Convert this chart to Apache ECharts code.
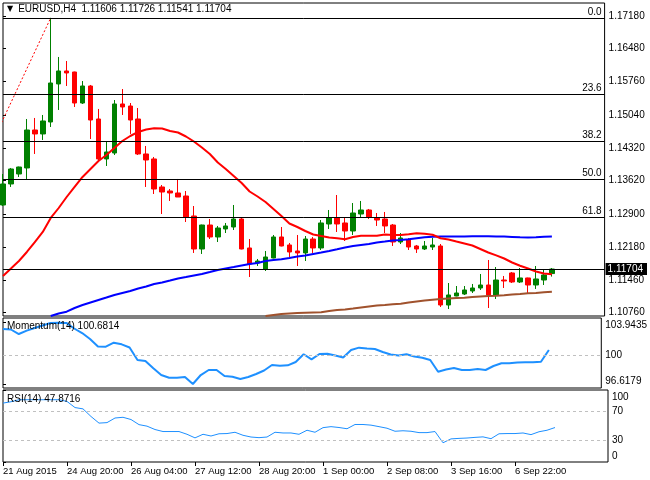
<!DOCTYPE html>
<html>
<head>
<meta charset="UTF-8">
<title>EURUSD H4</title>
<style>
  html, body { margin: 0; padding: 0; background: #fff; }
  #chart { width: 650px; height: 480px; }
</style>
</head>
<body>
<div id="chart"></div>
<script src="https://cdn.jsdelivr.net/npm/echarts@6/dist/echarts.min.js"></script>
<script>
// bars, bar 0 = 21 Aug 2015 12:00, one value per bar
var symbol = 'EURUSD,H4';

var opens = [
  1.13090, 1.13545, 1.13761, 1.13891, 1.14713, 1.14627, 1.14886, 1.15709, 1.15990, 1.15968,
  1.15297, 1.15665, 1.14951, 1.14086, 1.14215, 1.15276, 1.15232, 1.14951, 1.14194, 1.14086,
  1.13480, 1.13393, 1.13350, 1.13285, 1.12852, 1.12138, 1.12657, 1.12398, 1.12571, 1.12614,
  1.12787, 1.12160, 1.11835, 1.11705, 1.11943, 1.12398, 1.12225, 1.12095, 1.12052, 1.12354,
  1.12160, 1.12679, 1.12809, 1.12701, 1.12527, 1.12895, 1.12982, 1.12809, 1.12787, 1.12657,
  1.12289, 1.12333, 1.12203, 1.12138, 1.12181, 1.12203, 1.10926, 1.11121, 1.11164, 1.11229,
  1.11294, 1.11359, 1.11143, 1.11467, 1.11619, 1.11424, 1.11511, 1.11359, 1.11467, 1.11606
];
var highs = [
  1.13761, 1.13891, 1.13920, 1.14951, 1.14973, 1.15038, 1.17140, 1.16293, 1.16206, 1.15975,
  1.15773, 1.15687, 1.15168, 1.14453, 1.15362, 1.15600, 1.15297, 1.15189, 1.14367, 1.14129,
  1.13523, 1.13436, 1.13653, 1.13393, 1.13068, 1.12665, 1.12787, 1.12636, 1.12701, 1.13090,
  1.12809, 1.12354, 1.11922, 1.12095, 1.12441, 1.12614, 1.12268, 1.12441, 1.12419, 1.12398,
  1.12765, 1.12982, 1.13306, 1.12809, 1.13133, 1.13177, 1.13004, 1.12917, 1.12939, 1.12679,
  1.12484, 1.12376, 1.12225, 1.12311, 1.12376, 1.12246, 1.11402, 1.11337, 1.11337, 1.11381,
  1.11597, 1.11900, 1.11748, 1.11554, 1.11640, 1.11727, 1.11518, 1.11770, 1.11684, 1.11726
];
var lows = [
  1.13068, 1.13480, 1.13696, 1.13653, 1.14194, 1.14497, 1.14778, 1.15146, 1.15665, 1.15211,
  1.15276, 1.14518, 1.14021, 1.13934, 1.14172, 1.15038, 1.14627, 1.14172, 1.13480, 1.13328,
  1.12895, 1.13177, 1.13263, 1.12722, 1.12052, 1.12030, 1.12354, 1.12289, 1.12484, 1.12549,
  1.12130, 1.11532, 1.11770, 1.11662, 1.11935, 1.12195, 1.11965, 1.11770, 1.11878, 1.12052,
  1.12116, 1.12571, 1.12506, 1.12311, 1.12441, 1.12830, 1.12787, 1.12636, 1.12484, 1.12203,
  1.12246, 1.12116, 1.12052, 1.12116, 1.12116, 1.10883, 1.10839, 1.11115, 1.11143, 1.11186,
  1.11251, 1.10861, 1.11056, 1.11294, 1.11402, 1.11402, 1.11186, 1.11273, 1.11359, 1.11541
];
var closes = [
  1.13545, 1.13869, 1.13912, 1.14713, 1.14627, 1.14908, 1.15730, 1.15990, 1.15947, 1.15297,
  1.15665, 1.14929, 1.14086, 1.14237, 1.15276, 1.15211, 1.14929, 1.14194, 1.14064, 1.13436,
  1.13371, 1.13350, 1.13263, 1.12830, 1.12138, 1.12657, 1.12398, 1.12592, 1.12636, 1.12787,
  1.12138, 1.11813, 1.11878, 1.11965, 1.12398, 1.12203, 1.12073, 1.12052, 1.12354, 1.12160,
  1.12701, 1.12809, 1.12679, 1.12527, 1.12917, 1.12982, 1.12830, 1.12765, 1.12636, 1.12289,
  1.12376, 1.12181, 1.12138, 1.12203, 1.12225, 1.10926, 1.11143, 1.11186, 1.11251, 1.11294,
  1.11359, 1.11143, 1.11467, 1.11446, 1.11424, 1.11511, 1.11359, 1.11489, 1.11576, 1.11704
];

// moving averages (red = fast, blue = 100, brown = 200), null where off the pane
var maRed = [
  1.11554, 1.11716, 1.11878, 1.12073, 1.12289, 1.12506, 1.12809, 1.13025, 1.13263, 1.13480,
  1.13696, 1.13869, 1.14042, 1.14172, 1.14324, 1.14475, 1.14583, 1.14670, 1.14724, 1.14750,
  1.14746, 1.14691, 1.14659, 1.14572, 1.14464, 1.14334, 1.14194, 1.14010, 1.13869, 1.13718,
  1.13566, 1.13382, 1.13274, 1.13155, 1.13004, 1.12852, 1.12690, 1.12614, 1.12527, 1.12452,
  1.12419, 1.12387, 1.12370, 1.12349, 1.12398, 1.12426, 1.12426, 1.12426, 1.12452, 1.12441,
  1.12441, 1.12456, 1.12478, 1.12467, 1.12446, 1.12370, 1.12344, 1.12300, 1.12257, 1.12214,
  1.12138, 1.12062, 1.12001, 1.11932, 1.11846, 1.11776, 1.11716, 1.11651, 1.11608, 1.11591
];
var maBlue = [
  null, null, null, null, null, null, 1.10688, 1.10742, 1.10781, 1.10861,
  1.10926, 1.10980, 1.11034, 1.11088, 1.11143, 1.11186, 1.11229, 1.11283, 1.11327, 1.11381,
  1.11413, 1.11456, 1.11500, 1.11532, 1.11565, 1.11597, 1.11640, 1.11684, 1.11716, 1.11748,
  1.11781, 1.11813, 1.11835, 1.11878, 1.11900, 1.11915, 1.11943, 1.11976, 1.11998, 1.12030,
  1.12062, 1.12095, 1.12131, 1.12170, 1.12203, 1.12225, 1.12246, 1.12279, 1.12300, 1.12322,
  1.12333, 1.12348, 1.12370, 1.12392, 1.12404, 1.12406, 1.12408, 1.12410, 1.12410, 1.12412,
  1.12412, 1.12412, 1.12410, 1.12406, 1.12400, 1.12392, 1.12387, 1.12390, 1.12404, 1.12410
];
var maBrown = [
  null, null, null, null, null, null, null, null, null, null,
  null, null, null, null, null, null, null, null, null, null,
  null, null, null, null, null, null, null, null, null, null,
  null, null, null, 1.10688, 1.10710, 1.10731, 1.10742, 1.10753, 1.10760, 1.10764,
  1.10768, 1.10796, 1.10818, 1.10829, 1.10850, 1.10872, 1.10894, 1.10915, 1.10926, 1.10941,
  1.10954, 1.10980, 1.11002, 1.11023, 1.11041, 1.11056, 1.11067, 1.11077, 1.11084, 1.11099,
  1.11110, 1.11121, 1.11127, 1.11136, 1.11153, 1.11164, 1.11179, 1.11186, 1.11201, 1.11214
];

var momentum = [
  103.19, 103.13, 102.59, 102.99, 103.31, 103.61, 103.90, 103.9435, 103.92, 103.25,
  102.71, 102.00, 101.10, 101.08, 101.55, 101.36, 100.98, 99.49, 99.37, 98.49,
  97.69, 97.37, 97.37, 97.46, 96.6179, 97.69, 98.29, 98.29, 97.57, 97.49,
  97.22, 97.46, 97.81, 98.23, 98.89, 98.81, 98.85, 99.25, 100.17, 99.57,
  100.20, 100.24, 100.02, 99.78, 100.68, 100.96, 100.86, 100.80, 100.44, 100.14,
  100.02, 100.17, 99.90, 99.76, 99.49, 98.09, 98.35, 98.53, 98.29, 98.29,
  98.41, 98.29, 98.77, 99.09, 99.09, 99.19, 99.21, 99.21, 99.28, 100.6814
];
var rsi = [
  81.8, 83.7, 86.5, 86.5, 86.5, 86.5, 86.5, 86.5, 84.1, 75.6,
  73.8, 63.2, 54.0, 54.7, 61.1, 62.1, 59.0, 51.9, 49.8, 45.1,
  42.3, 42.3, 42.3, 38.5, 33.5, 38.5, 36.1, 39.2, 39.5, 41.3,
  37.1, 34.7, 33.8, 34.7, 41.3, 40.3, 40.3, 38.5, 44.1, 41.3,
  47.7, 49.1, 47.9, 46.2, 52.1, 52.1, 51.2, 49.1, 46.9, 42.7,
  43.4, 42.7, 40.8, 40.8, 42.3, 26.7, 32.1, 32.8, 33.3, 34.2,
  34.9, 32.4, 39.2, 39.5, 39.5, 40.3, 38.0, 42.0, 44.1, 47.8716
];

// fibonacci retracement drawn from the early-August low to the 24 Aug high
var fibHigh = 1.1714, fibHighBar = 6;
var fibLow = 1.1017, fibLowBar = -13;
var fibRatios = [0, 0.236, 0.382, 0.5, 0.618];

// axes
var timeTicks = [0, 8, 16, 24, 32, 40, 48, 56, 64];
var timeLabels = ['21 Aug 2015', '24 Aug 20:00', '26 Aug 04:00', '27 Aug 12:00', '28 Aug 20:00',
  '1 Sep 00:00', '2 Sep 08:00', '3 Sep 16:00', '6 Sep 22:00'];
var priceTicks = [1.10760, 1.11460, 1.12180, 1.12900, 1.13620, 1.14320, 1.15040, 1.15760, 1.16480, 1.17180];
var momTicks = ['96.6179', '100', '103.9435'];
var rsiTicks = [0, 30, 70, 100];
var rsiLevels = [30, 70];

var priceMin = 1.10688, priceMax = 1.17461;
var momMin = 96.141, momMax = 104.504;
var xSpan = 75.625;

var FONT = 'Liberation Sans';
var n = closes.length;
var last = n - 1;

function pairs(arr) {
  var out = [];
  arr.forEach(function (v, i) { if (v !== null) out.push([i, v]); });
  return out;
}

var candles = closes.map(function (c, i) {
  return [i, opens[i], c, lows[i], highs[i]];
});

var fibLines = fibRatios.map(function (r) {
  return {
    yAxis: fibHigh - r * (fibHigh - fibLow),
    label: { formatter: (r * 100).toFixed(1) }
  };
});
fibLines.push({ yAxis: closes[last], label: { show: false } });

var chart = echarts.init(document.getElementById('chart'));

function xAxisFor(grid, showLabels) {
  return {
    type: 'value', gridIndex: grid, min: 0, max: xSpan,
    show: showLabels,
    splitLine: { show: false },
    axisLine: { show: false },
    axisTick: { show: true, customValues: timeTicks, length: 4, lineStyle: { color: '#000' } },
    axisLabel: {
      customValues: timeTicks, showMinLabel: true, showMaxLabel: true,
      align: 'left', margin: 4, fontSize: 9.5, color: '#000', fontFamily: FONT,
      formatter: function (v) { return timeLabels[timeTicks.indexOf(v)] || ''; }
    }
  };
}

function yAxisBase(grid, min, max) {
  return {
    type: 'value', gridIndex: grid, position: 'right', min: min, max: max,
    splitLine: { show: false },
    axisLine: { show: false },
    axisTick: { show: true, length: 3, lineStyle: { color: '#000' } },
    axisLabel: { margin: 4, fontSize: 10, color: '#000', fontFamily: FONT }
  };
}

var yPrice = yAxisBase(0, priceMin, priceMax);
yPrice.axisTick.customValues = priceTicks;
yPrice.axisLabel.customValues = priceTicks;
yPrice.axisLabel.formatter = function (v) { return v.toFixed(5); };

var yTag = yAxisBase(0, priceMin, priceMax);
yTag.axisTick = { show: false };
yTag.axisLabel = {
  customValues: [closes[last]], margin: 1, fontSize: 10, fontFamily: FONT,
  color: '#fff', backgroundColor: '#000', padding: [1, 4, 1, 2],
  formatter: function (v) { return v.toFixed(5); }
};

var yMom = yAxisBase(1, momMin, momMax);
yMom.axisTick.customValues = momTicks.map(Number);
yMom.axisLabel.customValues = momTicks.map(Number);
yMom.axisLabel.formatter = function (v) {
  var s = momTicks[momTicks.map(Number).indexOf(v)];
  if (v === Number(momTicks[2])) return '{s6| }\n{t|' + s + '}';
  if (v === Number(momTicks[0])) return '{t|' + s + '}\n{s6| }';
  return '{t|' + s + '}';
};
yMom.axisLabel.rich = { t: { lineHeight: 12 }, s6: { lineHeight: 6 } };

var yRsi = yAxisBase(2, 0, 100);
yRsi.axisTick.customValues = rsiTicks;
yRsi.axisLabel.customValues = rsiTicks;
yRsi.axisLabel.formatter = function (v) {
  if (v === 100) return '{s14| }\n{t|100}';
  if (v === 0) return '{t|0}\n{s12| }';
  return '{t|' + v + '}';
};
yRsi.axisLabel.rich = { t: { lineHeight: 12 }, s14: { lineHeight: 14 }, s12: { lineHeight: 12 } };

var option = {
  animation: false,
  backgroundColor: '#fff',
  textStyle: { fontFamily: FONT },
  title: [
    {
      text: '{tri|▼}' + symbol + '  ' +
        [opens[last], highs[last], lows[last], closes[last]].map(function (v) { return v.toFixed(5); }).join(' '),
      left: 7, top: 4, padding: 0,
      textStyle: { fontSize: 10, fontWeight: 'normal', color: '#000', fontFamily: FONT,
        rich: { tri: { fontSize: 8, fontFamily: 'DejaVu Sans', padding: [0, 5, 0, 0] } } }
    },
    {
      text: 'Momentum(14) ' + momentum[last].toFixed(4),
      left: 7, top: 321, padding: 0,
      textStyle: { fontSize: 10, fontWeight: 'normal', color: '#000', fontFamily: FONT }
    },
    {
      text: 'RSI(14) ' + rsi[last].toFixed(4),
      left: 7, top: 394, padding: 0,
      textStyle: { fontSize: 10, fontWeight: 'normal', color: '#000', fontFamily: FONT }
    }
  ],
  grid: [
    { left: 3, right: 42, top: 3, height: 313, show: true, borderColor: '#000', borderWidth: 1 },
    { left: 3, right: 42, top: 318, height: 70, show: true, borderColor: '#000', borderWidth: 1 },
    { left: 3, right: 42, top: 390, height: 72, show: true, borderColor: '#000', borderWidth: 1 }
  ],
  xAxis: [xAxisFor(0, false), xAxisFor(1, false), xAxisFor(2, true)],
  yAxis: [yPrice, yTag, yMom, yRsi],
  series: [
    {
      name: 'price', type: 'candlestick', xAxisIndex: 0, yAxisIndex: 0,
      data: candles, encode: { x: 0, y: [1, 2, 3, 4] },
      barWidth: 5,
      itemStyle: {
        color: '#008000', color0: '#ff0000',
        borderColor: '#008000', borderColor0: '#ff0000', borderWidth: 1
      },
      markLine: {
        silent: true, symbol: 'none', animation: false, precision: 6,
        lineStyle: { color: '#000', width: 1, type: 'solid' },
        label: { position: 'insideEndTop', distance: [3, 1], color: '#000', fontSize: 10, fontFamily: FONT },
        data: fibLines
      },
      z: 2
    },
    {
      name: 'fib trend', type: 'line', xAxisIndex: 0, yAxisIndex: 0,
      data: [[fibLowBar, fibLow], [fibHighBar, fibHigh]],
      showSymbol: false, silent: true,
      lineStyle: { color: '#ff0000', width: 1, type: [2, 2] }, z: 3
    },
    {
      name: 'MA brown', type: 'line', xAxisIndex: 0, yAxisIndex: 0, data: pairs(maBrown),
      showSymbol: false, silent: true, lineStyle: { color: '#a0522d', width: 2 }, z: 3
    },
    {
      name: 'MA blue', type: 'line', xAxisIndex: 0, yAxisIndex: 0, data: pairs(maBlue),
      showSymbol: false, silent: true, lineStyle: { color: '#0000ff', width: 2 }, z: 3
    },
    {
      name: 'MA red', type: 'line', xAxisIndex: 0, yAxisIndex: 0, data: pairs(maRed),
      showSymbol: false, silent: true, lineStyle: { color: '#ff0000', width: 2 }, z: 3
    },
    {
      name: 'Momentum', type: 'line', xAxisIndex: 1, yAxisIndex: 2, data: pairs(momentum),
      showSymbol: false, silent: true, lineStyle: { color: '#1e90ff', width: 2 },
      markLine: {
        silent: true, symbol: 'none', animation: false, precision: 6, label: { show: false },
        lineStyle: { color: '#c0c0c0', width: 1, type: [3, 3] },
        data: [{ yAxis: 100 }]
      }
    },
    {
      name: 'RSI', type: 'line', xAxisIndex: 2, yAxisIndex: 3, data: pairs(rsi),
      showSymbol: false, silent: true, lineStyle: { color: '#1e90ff', width: 1 },
      markLine: {
        silent: true, symbol: 'none', animation: false, precision: 6, label: { show: false },
        lineStyle: { color: '#c0c0c0', width: 1, type: [3, 3] },
        data: rsiLevels.map(function (v) { return { yAxis: v }; })
      }
    }
  ]
};

chart.setOption(option);
</script>
</body>
</html>
